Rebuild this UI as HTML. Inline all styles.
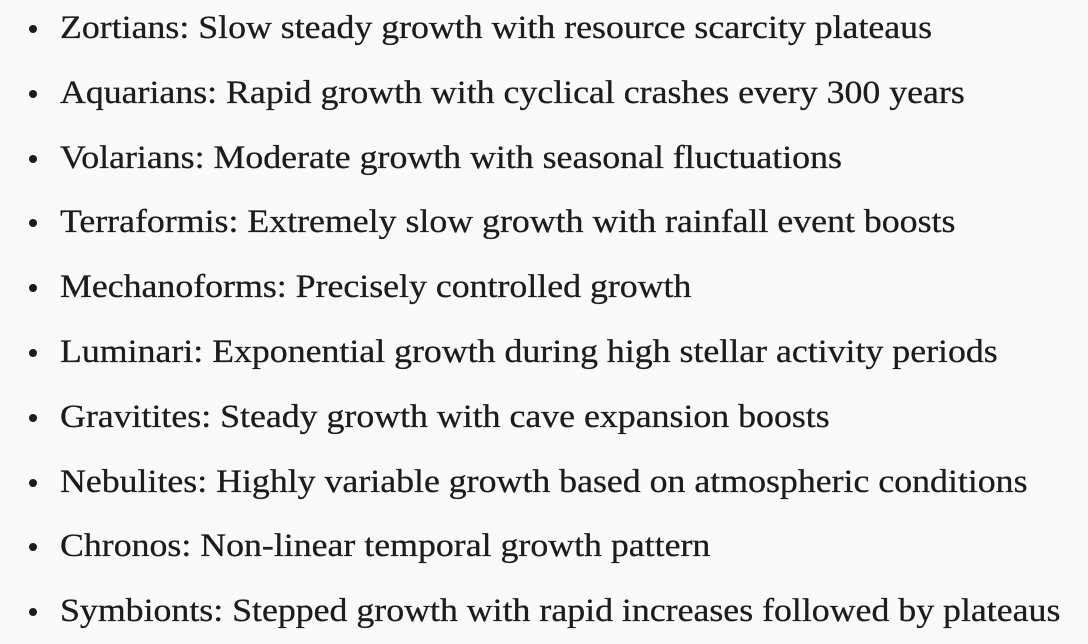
<!DOCTYPE html>
<html><head><meta charset="utf-8"><style>
html,body{margin:0;padding:0;width:1088px;height:644px;overflow:hidden;background:#fbfaf8;}
ul{margin:0;padding:0;list-style:none;position:absolute;left:0;top:-4px;}
li{position:relative;padding-left:60px;height:64.8px;line-height:64.8px;font-family:"Liberation Serif",serif;font-size:33px;color:#1c1c1c;white-space:nowrap;}
li span{display:inline-block;transform:scaleX(1.085);transform-origin:0 50%;-webkit-text-stroke:0.3px #1c1c1c;}
li::before{content:"";position:absolute;left:29px;top:29px;width:8px;height:8px;border-radius:50%;background:#1c1c1c;}
</style></head><body>
<ul>
<li><span>Zortians: Slow steady growth with resource scarcity plateaus</span></li>
<li><span>Aquarians: Rapid growth with cyclical crashes every 300 years</span></li>
<li><span>Volarians: Moderate growth with seasonal fluctuations</span></li>
<li><span>Terraformis: Extremely slow growth with rainfall event boosts</span></li>
<li><span>Mechanoforms: Precisely controlled growth</span></li>
<li><span>Luminari: Exponential growth during high stellar activity periods</span></li>
<li><span>Gravitites: Steady growth with cave expansion boosts</span></li>
<li><span>Nebulites: Highly variable growth based on atmospheric conditions</span></li>
<li><span>Chronos: Non-linear temporal growth pattern</span></li>
<li><span>Symbionts: Stepped growth with rapid increases followed by plateaus</span></li>
</ul>
</body></html>
